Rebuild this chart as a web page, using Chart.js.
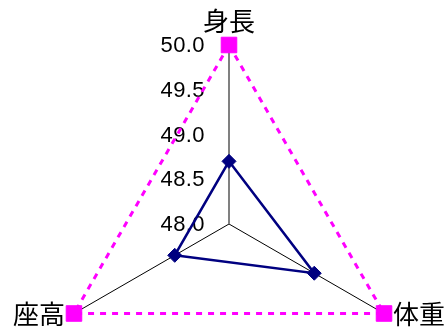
<!DOCTYPE html>
<html>
<head>
<meta charset="utf-8">
<script src="https://cdn.jsdelivr.net/npm/chart.js@4"></script>
<style>
html, body { margin: 0; padding: 0; overflow: hidden; background: #fff; }
#wrap { position: absolute; left: 0; top: 0; width: 444px; height: 420px; }
</style>
</head>
<body>
<div id="wrap"><canvas id="chart"></canvas></div>
<script>
// data
var labels = ['身長', '体重', '座高'];
var measured = [48.7, 49.1, 48.7];
var reference = [50.0, 50.0, 50.0];
var tickValues = [48.0, 48.5, 49.0, 49.5, 50.0];

// tick labels sit left of the vertical axis, category names next to the outer points
var radarText = {
    id: 'radarText',
    beforeDatasetsDraw: function (chart) {
        var r = chart.scales.r;
        var c = chart.ctx;
        c.save();
        c.fillStyle = '#000';
        c.textBaseline = 'middle';
        c.font = '22px "Liberation Sans", Arial, sans-serif';
        c.letterSpacing = '0.4px';
        c.textAlign = 'right';
        r.ticks.forEach(function (t) {
            c.fillText(t.value.toFixed(1), r.xCenter - 24, r.yCenter - r.getDistanceFromCenterForValue(t.value) + 1);
        });
        c.letterSpacing = '0px';
        c.font = '26px "Noto Sans CJK JP", sans-serif';
        labels.forEach(function (lab, i) {
            var p = r.getPointPosition(i, r.drawingArea);
            if (i === 0) {
                c.textAlign = 'center';
                c.fillText(lab, p.x, p.y - 24);
            } else if (p.x > r.xCenter) {
                c.textAlign = 'left';
                c.fillText(lab, p.x + 9, p.y + 1);
            } else {
                c.textAlign = 'right';
                c.fillText(lab, p.x - 9, p.y + 1);
            }
        });
        c.restore();
    }
};

new Chart(document.getElementById('chart'), {
    type: 'radar',
    data: {
        labels: labels,
        datasets: [{
            data: measured,
            borderColor: '#000080',
            borderWidth: 2.5,
            pointStyle: 'rectRot',
            pointRadius: 7,
            pointBackgroundColor: '#000080',
            pointBorderColor: '#000080',
            pointBorderWidth: 1,
            fill: false,
            clip: false
        }, {
            data: reference,
            borderColor: '#ff00ff',
            borderWidth: 3,
            borderDash: [6, 6],
            pointStyle: 'rect',
            pointRadius: 11,
            pointBackgroundColor: '#ff00ff',
            pointBorderColor: '#ff00ff',
            pointBorderWidth: 1,
            fill: false,
            clip: false
        }]
    },
    options: {
        responsive: true,
        maintainAspectRatio: false,
        animation: false,
        layout: { padding: { left: 50, right: 36, top: 45, bottom: 17 } },
        plugins: { legend: { display: false }, tooltip: { enabled: false } },
        scales: {
            r: {
                min: tickValues[0],
                max: tickValues[tickValues.length - 1],
                ticks: { stepSize: tickValues[1] - tickValues[0], display: false },
                grid: { display: false },
                pointLabels: { display: false },
                angleLines: {
                    display: true,
                    color: function (ctx) { return ctx.index === 0 ? '#808080' : '#000000'; },
                    lineWidth: function (ctx) { return ctx.index === 0 ? 2 : 1; }
                }
            }
        }
    },
    plugins: [radarText]
});
</script>
</body>
</html>
